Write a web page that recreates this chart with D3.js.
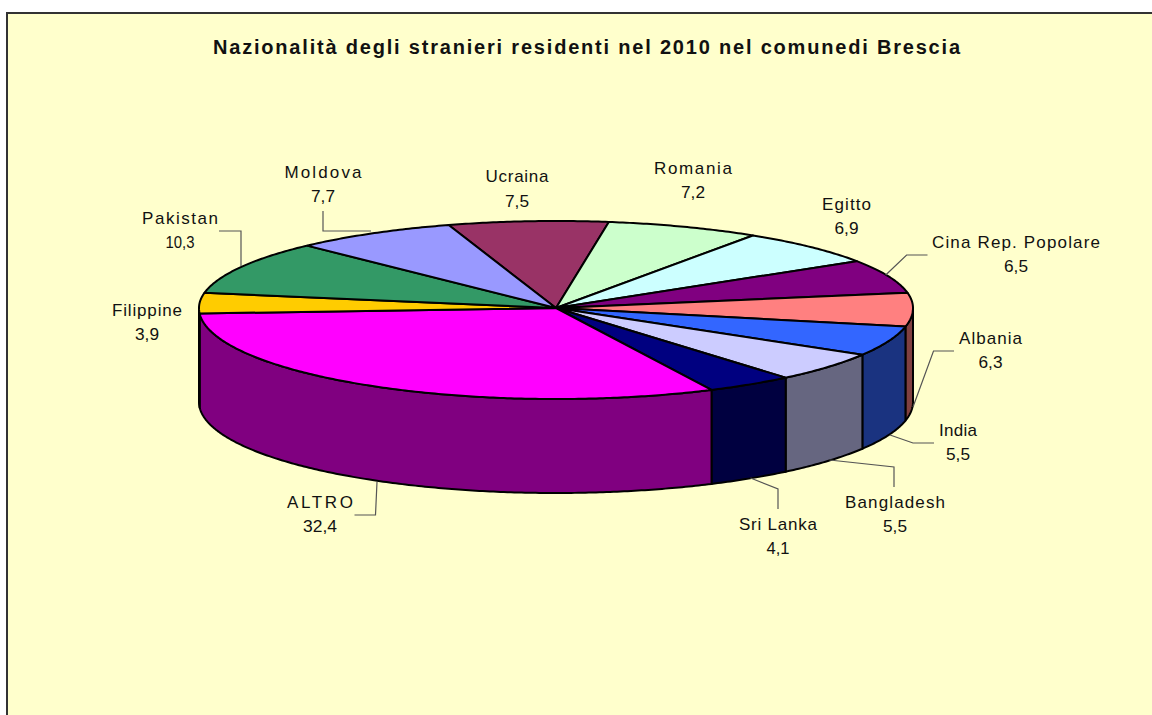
<!DOCTYPE html>
<html><head><meta charset="utf-8">
<style>html,body{margin:0;padding:0;background:#fff}svg{display:block}text{font-family:"Liberation Sans",Arial,sans-serif;fill:#111}</style>
<script src="https://cdnjs.cloudflare.com/ajax/libs/d3/7.8.5/d3.min.js"></script>
</head><body><svg id="c" width="1152" height="715"></svg>
<script>
const categories = ["Ucraina","Romania","Egitto","Cina Rep. Popolare","Albania","India","Bangladesh","Sri Lanka","ALTRO","Filippine","Pakistan","Moldova"];
const values = [7.5,7.2,6.9,6.5,6.3,5.5,5.5,4.1,32.4,3.9,10.3,7.7];
const valueLabels = ["7,5","7,2","6,9","6,5","6,3","5,5","5,5","4,1","32,4","3,9","10,3","7,7"];
const title = "Nazionalità degli stranieri residenti nel 2010 nel comunedi Brescia";
const topColors = ["#993366","#CCFFCC","#CCFFFF","#800080","#FF8080","#3366FF","#CCCCFF","#000080","#FF00FF","#FFCC00","#339966","#9999FF"];
const wallColors = ["#4D1A33","#668066","#668080","#400040","#804040","#1A3380","#666680","#000040","#800080","#806600","#1A4D33","#4D4D80"];
// label layout: centre x, name baseline, value baseline, name width, value width
const labelLayout = [
 [517,182,207,63,24],[693,174,198,78,24],[846.5,210,234,49,24],[1016,248,272,168,24],
 [990.5,344,368,63,24],[958,436,460,38,24],[895,508,532,100,24],[778,530,554,78,23],
 [320,508,532,66,34],[147,316,340,70,24],[180,224,248,76,29],[323,178,202,77,24]];
const leaders = [
 null,null,null,
 [[927.5,255],[906.6,255],[885.7,275]],
 [[954,351],[933.5,351],[913,407]],
 [[934,443],[913,443],[890,435]],
 [[894,487],[894,467],[829.5,460]],
 [[778,509],[778,489],[750.5,478]],
 [[354.5,515],[375.5,515],[377,482]],
 null,
 [[219,231],[241,231],[241,266]],
 [[323,211],[323,231],[371,231]]];

const svg = d3.select("#c");
svg.append("rect").attr("x",7).attr("y",13).attr("width",1200).attr("height",760)
   .attr("fill","#FFFFCC").attr("stroke","#333").attr("stroke-width",2);
svg.append("text").attr("x",586.5).attr("y",54).attr("text-anchor","middle")
   .attr("font-size",20).attr("font-weight","bold").attr("textLength",747)
   .attr("lengthAdjust","spacing").text(title);

const rot = -17.5*Math.PI/180;
const pie = d3.pie().sort(null).startAngle(rot).endAngle(rot+2*Math.PI)(values);
const sx = d3.scaleLinear().domain([-1,1]).range([199,913]);
const sy = d3.scaleLinear().domain([-1,0,1]).range([221,308,399]);
const depth = 94;
const px = t=>sx(Math.sin(t)), py = t=>sy(-Math.cos(t));
const samples = (a,b)=>{const n=Math.max(2,Math.ceil((b-a)/0.01));return d3.range(n+1).map(i=>a+(b-a)*i/n);};
const line = d3.line();
const cx = sx(0), cy = sy(0);

// front walls
pie.forEach((d,i)=>{
  const a = Math.max(d.startAngle, Math.PI/2), b = Math.min(d.endAngle, 3*Math.PI/2);
  if (b<=a) return;
  const s = samples(a,b);
  const pts = s.map(t=>[px(t),py(t)]).concat(s.slice().reverse().map(t=>[px(t),py(t)+depth]));
  svg.append("path").attr("d",line(pts)+"Z").attr("fill",wallColors[i])
     .attr("stroke","#000").attr("stroke-width",2).attr("stroke-linejoin","round");
});
// top face
pie.forEach((d,i)=>{
  const pts = [[cx,cy]].concat(samples(d.startAngle,d.endAngle).map(t=>[px(t),py(t)]));
  svg.append("path").attr("d",line(pts)+"Z").attr("fill",topColors[i])
     .attr("stroke","#000").attr("stroke-width",2).attr("stroke-linejoin","round");
});
// leaders
leaders.forEach(l=>{ if(l) svg.append("path").attr("d",line(l)).attr("fill","none")
   .attr("stroke","#555").attr("stroke-width",1.2); });
// labels
categories.forEach((c,i)=>{
  const [x,y1,y2,w1,w2]=labelLayout[i];
  svg.append("text").attr("x",x).attr("y",y1).attr("text-anchor","middle").attr("font-size",17)
     .attr("textLength",w1).attr("lengthAdjust","spacing").text(c);
  svg.append("text").attr("x",x).attr("y",y2).attr("text-anchor","middle").attr("font-size",17)
     .attr("textLength",w2).attr("lengthAdjust","spacingAndGlyphs").text(valueLabels[i]);
});
</script></body></html>
